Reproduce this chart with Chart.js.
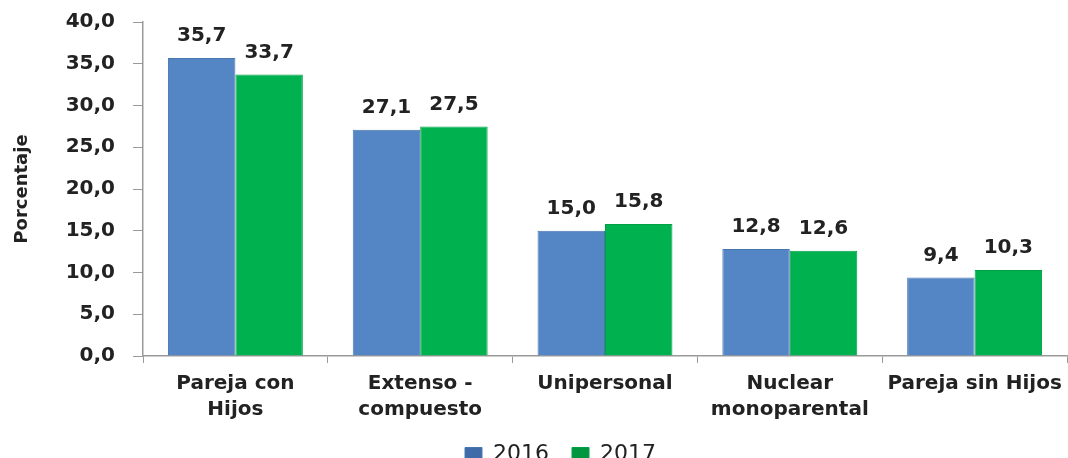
<!DOCTYPE html>
<html>
<head>
<meta charset="utf-8">
<script src="https://cdn.jsdelivr.net/npm/chart.js@4/dist/chart.umd.min.js"></script>
<style>
html,body{margin:0;padding:0;background:#fff;}
#wrap{width:1068px;height:458px;position:relative;}
</style>
</head>
<body>
<div id="wrap"><canvas id="c"></canvas></div>
<script>
const categories = [["Pareja con","Hijos"],["Extenso -","compuesto"],["Unipersonal"],["Nuclear","monoparental"],["Pareja sin Hijos"]];
const values2016 = [35.7, 27.1, 15.0, 12.8, 9.4];
const values2017 = [33.7, 27.5, 15.8, 12.6, 10.3];
const seriesNames = ["2016","2017"];
const yTicks = [0,5,10,15,20,25,30,35,40];

const FONT = "'DejaVu Sans', Verdana, sans-serif";
const TEXT = "#222222";
const fmt = v => v.toFixed(1).replace('.', ',');

function barGradient(ctx, base, dark){
  const el = ctx.element;
  const chart = ctx.chart;
  if(!el || !chart.chartArea || el.x === undefined || !el.width) return base;
  const g = chart.ctx.createLinearGradient(el.x - el.width/2, 0, el.x + el.width/2, 0);
  g.addColorStop(0, dark);
  g.addColorStop(0.07, base);
  g.addColorStop(0.92, base);
  g.addColorStop(1, dark);
  return g;
}

const labelPlugin = {
  id: 'valueLabels',
  afterDatasetsDraw(chart){
    const ctx = chart.ctx;
    ctx.save();
    ctx.font = "bold 20px " + FONT;
    ctx.fillStyle = TEXT;
    ctx.textAlign = 'center';
    ctx.textBaseline = 'bottom';
    chart.data.datasets.forEach((ds, i) => {
      const meta = chart.getDatasetMeta(i);
      meta.data.forEach((bar, j) => {
        ctx.fillText(fmt(ds.data[j]), bar.x, bar.y - 12);
      });
    });
    ctx.restore();
  }
};

const layoutTweak = {
  id: 'layoutTweak',
  afterLayout(chart){
    const lg = chart.legend;
    if(lg){ lg.left += 21; lg.right += 21; lg.top += 17; lg.bottom += 17; }
    const x = chart.scales.x;
    if(x){ x.bottom = chart.height; }
  }
};

new Chart(document.getElementById('c'), {
  type: 'bar',
  data: {
    labels: categories,
    datasets: [
      {label: seriesNames[0], data: values2016,
       backgroundColor: c => barGradient(c, '#5486C6', '#3F6CA8'),
       borderColor: '#4A76B0', borderWidth: 1},
      {label: seriesNames[1], data: values2017,
       backgroundColor: c => barGradient(c, '#00B24F', '#009640'),
       borderColor: '#00A048', borderWidth: 1}
    ]
  },
  options: {
    responsive: true,
    maintainAspectRatio: false,
    animation: false,
    layout: {padding: {top: 22, right: 1, left: 12, bottom: 0}},
    datasets: {bar: {categoryPercentage: 0.73, barPercentage: 1.0}},
    plugins: {
      legend: {
        position: 'bottom',
        labels: {font: {family: FONT, size: 22}, color: TEXT, boxWidth: 17, boxHeight: 13, padding: 23}
      },
      tooltip: {enabled: false}
    },
    scales: {
      x: {
        grid: {display: true, drawOnChartArea: false, drawTicks: true, tickLength: 7, color: '#9a9a9a', offset: true},
        border: {color: '#9a9a9a', width: 1.5},
        ticks: {font: {family: FONT, size: 20, weight: 'bold', lineHeight: 1.3}, color: TEXT, padding: 8, maxRotation: 0, autoSkip: false},
        afterFit: s => { s.height = 47; s.paddingLeft = 0; s.paddingRight = 0; }
      },
      y: {
        min: 0, max: 40,
        afterBuildTicks: s => { s.ticks = yTicks.map(v => ({value: v})); },
        grid: {display: true, drawOnChartArea: false, drawTicks: true, tickLength: 10, color: '#9a9a9a'},
        border: {color: '#9a9a9a', width: 1.5},
        ticks: {font: {family: FONT, size: 20, weight: 'bold'}, color: TEXT, padding: 18, callback: v => fmt(v)},
        title: {display: true, text: 'Porcentaje', font: {family: FONT, size: 18, weight: 'bold'}, color: TEXT, padding: {top: 0, bottom: 6}},
        afterFit: s => { s.width = 131; s.paddingTop = 0; s.paddingBottom = 0; }
      }
    }
  },
  plugins: [labelPlugin, layoutTweak]
});
</script>
</body>
</html>
